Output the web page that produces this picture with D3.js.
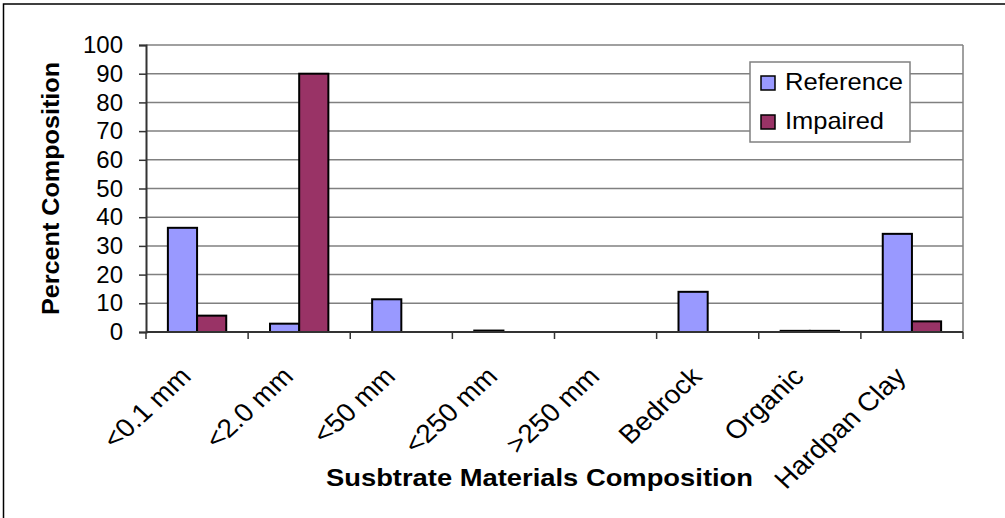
<!DOCTYPE html>
<html>
<head>
<meta charset="utf-8">
<script src="https://cdn.jsdelivr.net/npm/d3@7"></script>
<style>
  html, body { margin: 0; padding: 0; background: #fff; }
  svg { display: block; font-family: "Liberation Sans", Arial, sans-serif; }
</style>
</head>
<body>
<svg id="chart" width="1005" height="518"></svg>
<script>
// Substrate composition by particle class, reference vs impaired sites
const categories = ["<0.1 mm", "<2.0 mm", "<50 mm", "<250 mm", ">250 mm", "Bedrock", "Organic", "Hardpan Clay"];
const referenceValues = [36.3, 2.9, 11.4, 0.5, 0, 14.0, 0.4, 34.2];
const impairedValues  = [5.7, 90.0, 0, 0, 0, 0, 0.4, 3.7];
const seriesNames = ["Reference", "Impaired"];
const yTicks = [0, 10, 20, 30, 40, 50, 60, 70, 80, 90, 100];

const colors = { Reference: "#9999ff", Impaired: "#993366" };

const svg = d3.select("#chart");
const W = 1005, H = 518;
const plot = { left: 146, right: 963, top: 45, bottom: 332 };

// outer chart frame
svg.append("rect")
  .attr("x", 3.5).attr("y", 4)
  .attr("width", W + 10).attr("height", H + 10)
  .attr("fill", "#fff").attr("stroke", "#000").attr("stroke-width", 1.5);

const x = d3.scaleBand().domain(categories).range([plot.left, plot.right]).padding(0);
const y = d3.scaleLinear().domain([0, 100]).range([plot.bottom, plot.top]);

// gridlines
svg.append("g")
  .selectAll("line")
  .data(yTicks.filter(t => t > 0))
  .join("line")
  .attr("x1", plot.left).attr("x2", plot.right)
  .attr("y1", d => y(d)).attr("y2", d => y(d))
  .attr("stroke", "#808080").attr("stroke-width", 1.5);

// right border of plot area
svg.append("line")
  .attr("x1", plot.right).attr("x2", plot.right)
  .attr("y1", plot.top).attr("y2", plot.bottom)
  .attr("stroke", "#808080").attr("stroke-width", 1.5);

// bars: two per category, gap width 150% of a bar
const step = x.step();
const barW = step / 3.5;
const series = [
  { name: "Reference", values: referenceValues, offset: -barW },
  { name: "Impaired", values: impairedValues, offset: 0 }
];
series.forEach(s => {
  svg.append("g")
    .selectAll("rect")
    .data(categories.map((c, i) => ({ c, v: s.values[i] })).filter(d => d.v > 0))
    .join("rect")
    .attr("x", d => x(d.c) + step / 2 + s.offset)
    .attr("y", d => y(d.v))
    .attr("width", barW)
    .attr("height", d => y(0) - y(d.v))
    .attr("fill", colors[s.name])
    .attr("stroke", "#000").attr("stroke-width", 2);
});

// y axis
const yAxis = d3.axisLeft(y).tickValues(yTicks).tickSize(7).tickPadding(16);
const gy = svg.append("g").attr("transform", `translate(${plot.left},0)`).call(yAxis);
gy.select(".domain").attr("stroke", "#333").attr("stroke-width", 2);
gy.selectAll(".tick line").attr("stroke", "#333").attr("stroke-width", 1.5);
gy.selectAll(".tick text")
  .attr("font-size", 24).attr("fill", "#000")
  .attr("font-family", "Liberation Sans, Arial, sans-serif");

// x axis: boundary ticks between categories
svg.append("line")
  .attr("x1", plot.left).attr("x2", plot.right)
  .attr("y1", plot.bottom).attr("y2", plot.bottom)
  .attr("stroke", "#333").attr("stroke-width", 2);
const bounds = categories.map(c => x(c)).concat([plot.right]);
svg.append("g")
  .selectAll("line")
  .data(bounds)
  .join("line")
  .attr("x1", d => d).attr("x2", d => d)
  .attr("y1", plot.bottom).attr("y2", plot.bottom + 7)
  .attr("stroke", "#333").attr("stroke-width", 1.5);

// category labels, rotated 45° in a slightly widened frame
svg.append("g")
  .selectAll("text")
  .data(categories)
  .join("text")
  .attr("transform", d => `translate(${x(d) + step / 2 - 4.5},378) scale(1.08,1) rotate(-45)`)
  .attr("text-anchor", "end")
  .attr("font-size", 26)
  .attr("fill", "#000")
  .text(d => d);

// axis titles
svg.append("text")
  .attr("transform", `translate(59,188.5) rotate(-90)`)
  .attr("text-anchor", "middle")
  .attr("font-size", 24).attr("font-weight", "bold")
  .attr("textLength", 253).attr("lengthAdjust", "spacingAndGlyphs")
  .text("Percent Composition");

svg.append("text")
  .attr("x", 539.5).attr("y", 486)
  .attr("text-anchor", "middle")
  .attr("font-size", 24).attr("font-weight", "bold")
  .attr("textLength", 427).attr("lengthAdjust", "spacingAndGlyphs")
  .text("Susbtrate Materials Composition");

// legend
const lg = svg.append("g");
lg.append("rect")
  .attr("x", 750).attr("y", 62).attr("width", 160).attr("height", 80)
  .attr("fill", "#fff").attr("stroke", "#808080").attr("stroke-width", 1.5);
const legendWidths = [118, 99];
seriesNames.forEach((name, i) => {
  const cy = 83 + i * 39;
  lg.append("rect")
    .attr("x", 761).attr("y", cy - 7).attr("width", 14).attr("height", 14)
    .attr("fill", colors[name]).attr("stroke", "#000").attr("stroke-width", 1.5);
  lg.append("text")
    .attr("x", 785).attr("y", cy + 7)
    .attr("font-size", 24).attr("fill", "#000")
    .attr("textLength", legendWidths[i]).attr("lengthAdjust", "spacingAndGlyphs")
    .text(name);
});
</script>
</body>
</html>
